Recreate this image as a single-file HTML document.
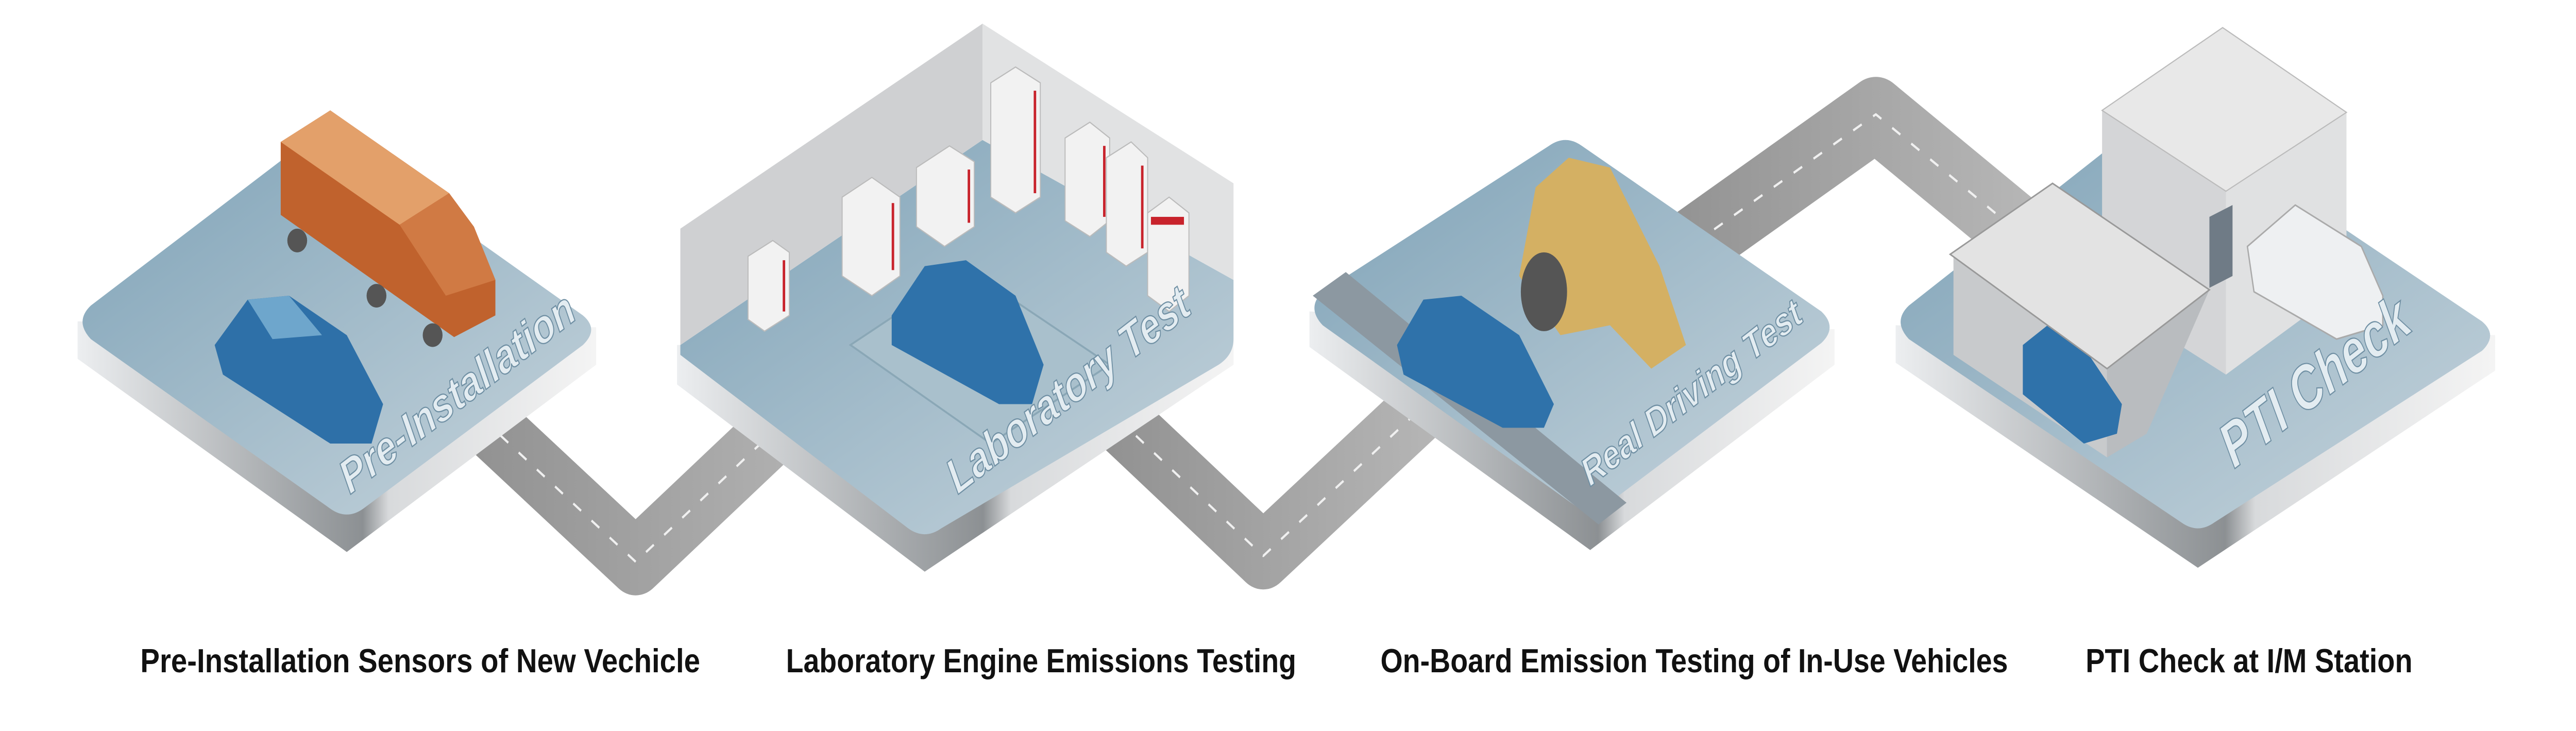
<!DOCTYPE html>
<html><head><meta charset="utf-8"><style>
html,body{margin:0;padding:0;background:#fff;overflow:hidden;width:100%;height:100%}
svg{display:block;width:100vw;height:100vh;position:absolute;left:0;top:0}
</style></head><body>
<svg viewBox="0 0 1560 370.8" preserveAspectRatio="none" xmlns="http://www.w3.org/2000/svg">
<defs>
<linearGradient id="top" x1="0" y1="0" x2="1" y2="1"><stop offset="0" stop-color="#7ea2b7"/><stop offset="1" stop-color="#c6d4dc"/></linearGradient>
<linearGradient id="side" x1="0" y1="0" x2="1" y2="0"><stop offset="0" stop-color="#eceef0"/><stop offset="0.55" stop-color="#8c9093"/><stop offset="0.6" stop-color="#d8dadc"/><stop offset="1" stop-color="#f4f4f4"/></linearGradient>
<linearGradient id="road" x1="0" y1="0" x2="1" y2="0"><stop offset="0" stop-color="#8f8f8f"/><stop offset="1" stop-color="#b8b8b8"/></linearGradient>
</defs>
<g fill="none" stroke-linejoin="round" stroke-linecap="butt">
<path d="M270 195 L385 285 L530 170" stroke="url(#road)" stroke-width="34"/>
<path d="M270 195 L385 285 L530 170" stroke="#f0f0f0" stroke-width="1.2" stroke-dasharray="6 8"/>
<path d="M655 195 L765 282 L885 188" stroke="url(#road)" stroke-width="34"/>
<path d="M655 195 L765 282 L885 188" stroke="#f0f0f0" stroke-width="1.2" stroke-dasharray="6 8"/>
<path d="M990 145 L1136 58 L1240 130" stroke="url(#road)" stroke-width="38"/>
<path d="M990 145 L1136 58 L1240 130" stroke="#f0f0f0" stroke-width="1.2" stroke-dasharray="6 8"/>
</g>
<!-- platform 1 -->
<path d="M47 163 L47 182 L210 280 L361 185 L361 166 Z" fill="url(#side)"/>
<path d="M55 155 Q45 163 55 172 L200 258 Q210 264 220 258 L353 175 Q363 167 353 160 L205 72 Q195 66 185 72 Z" fill="url(#top)"/>
<path d="M170 72 L200 56 L272 98 L287 115 L300 142 L300 160 L275 171 L170 109 Z" fill="#c0622d"/>
<path d="M170 72 L200 56 L272 98 L242 114 Z" fill="#e3a06a"/>
<path d="M242 114 L272 98 L287 115 L300 142 L270 150 Z" fill="#d07a44"/>
<circle cx="180" cy="122" r="6" fill="#555"/><circle cx="228" cy="150" r="6" fill="#555"/><circle cx="262" cy="170" r="6" fill="#555"/>
<path d="M130 175 L150 152 L175 150 L210 170 L232 205 L225 225 L200 225 L135 190 Z" fill="#2e70a8"/>
<path d="M150 152 L175 150 L195 170 L165 172 Z" fill="#6ea6cc"/>
<!-- platform 2 -->
<path d="M410 175 L410 195 L560 290 L747 185 L747 165 Z" fill="url(#side)"/>
<path d="M412 175 L595 71 L747 142 L747 172 Q747 180 738 185 L570 268 Q560 274 550 268 L412 180 Z" fill="url(#top)"/>
<path d="M412 116 L595 12 L595 71 L412 175 Z" fill="#cfd0d2"/>
<path d="M595 12 L747 93 L747 142 L595 71 Z" fill="#e1e2e3"/>
<path d="M515 175 L585 136 L672 185 L600 225 Z" fill="#a9c0cc" stroke="#8aa7b6"/>
<path d="M540 160 L560 135 L585 132 L615 150 L632 185 L625 205 L605 205 L540 175 Z" fill="#2f72aa"/>
<g fill="#f2f2f2" stroke="#bbb" stroke-width="0.6">
<path d="M453 130 L468 122 L478 128 L478 160 L463 168 L453 162 Z"/>
<path d="M510 100 L528 90 L545 100 L545 140 L528 150 L510 140 Z"/>
<path d="M555 85 L575 74 L590 82 L590 115 L572 125 L555 115 Z"/>
<path d="M600 42 L615 34 L630 42 L630 100 L615 108 L600 100 Z"/>
<path d="M645 70 L660 62 L672 70 L672 112 L660 120 L645 112 Z"/>
<path d="M670 80 L685 72 L695 80 L695 128 L682 135 L670 128 Z"/>
<path d="M695 108 L708 100 L720 108 L720 150 L708 158 L695 150 Z"/>
</g>
<g fill="#c8232c">
<rect x="474" y="132" width="1.5" height="26"/><rect x="540" y="103" width="1.5" height="34"/>
<rect x="586" y="86" width="1.5" height="27"/><rect x="626" y="46" width="1.5" height="52"/>
<rect x="668" y="74" width="1.5" height="36"/><rect x="691" y="84" width="1.5" height="42"/>
<rect x="697" y="110" width="20" height="4"/>
</g>
<!-- platform 3 -->
<path d="M793 158 L793 176 L963 279 L1111 185 L1111 167 Z" fill="url(#side)"/>
<path d="M801 148 Q791 156 801 165 L953 256 Q963 262 973 256 L1103 174 Q1113 166 1103 158 L958 74 Q948 68 938 74 Z" fill="url(#top)"/>
<path d="M795 150 L815 138 L985 255 L968 266 Z" fill="#8c98a1"/>
<path d="M930 95 L950 80 L975 85 L1005 135 L1021 175 L1000 187 L975 165 L945 170 L920 140 Z" fill="#d4b063"/>
<ellipse cx="935" cy="148" rx="14" ry="20" fill="#555"/>
<path d="M846 175 L862 152 L885 150 L920 170 L941 205 L935 217 L910 217 L850 190 Z" fill="#2f72aa"/>
<!-- platform 4 -->
<path d="M1148 165 L1148 184 L1331 288 L1511 188 L1511 170 Z" fill="url(#side)"/>
<path d="M1156 155 Q1146 163 1156 172 L1321 265 Q1331 271 1341 265 L1503 178 Q1513 170 1503 163 L1400 105 L1300 60 Z" fill="url(#top)"/>
<path d="M1273 56 L1346 14 L1421 57 L1421 145 L1348 190 L1273 150 Z" fill="#d4d5d7"/>
<path d="M1348 97 L1421 57 L1421 145 L1348 190 Z" fill="#e0e1e2"/>
<path d="M1273 56 L1346 14 L1421 57 L1348 97 Z" fill="#e8e8e8" stroke="#bbb" stroke-width="0.6"/>
<path d="M1183 129 L1183 180 L1276 232 L1276 187 Z" fill="#c8cacc"/>
<path d="M1276 187 L1276 232 L1300 220 L1338 147 Z" fill="#b9bcbf"/>
<path d="M1225 175 L1240 165 L1265 180 L1285 205 L1282 220 L1262 225 L1225 200 Z" fill="#2f72aa"/>
<path d="M1181 129 L1243 93 L1338 147 L1276 187 Z" fill="#e3e3e3" stroke="#999" stroke-width="0.8"/>
<path d="M1361 125 L1390 104 L1430 125 L1443 150 L1443 165 L1415 172 L1365 148 Z" fill="#eef0f2" stroke="#aaa" stroke-width="0.8"/>
<path d="M1338 110 L1352 104 L1352 140 L1338 146 Z" fill="#6f7b86"/>
<g font-family="Liberation Sans, sans-serif" font-style="italic" font-weight="bold" fill="#e3ecf1" stroke="#6f8fa3" stroke-width="0.6">
<text x="212" y="251" font-size="24" textLength="165" lengthAdjust="spacingAndGlyphs" transform="rotate(-33 212 251)">Pre-Installation</text>
<text x="580" y="251" font-size="25" textLength="170" lengthAdjust="spacingAndGlyphs" transform="rotate(-33 580 251)">Laboratory Test</text>
<text x="963" y="247" font-size="20" textLength="155" lengthAdjust="spacingAndGlyphs" transform="rotate(-33 963 247)">Real Driving Test</text>
<text x="1353" y="238" font-size="32" textLength="130" lengthAdjust="spacingAndGlyphs" transform="rotate(-33 1353 238)">PTI Check</text>
</g>
<g font-family="Liberation Sans, sans-serif" font-weight="bold" font-size="17" fill="#111">
<text x="85" y="341" textLength="339" lengthAdjust="spacingAndGlyphs">Pre-Installation Sensors of New Vechicle</text>
<text x="476" y="341" textLength="309" lengthAdjust="spacingAndGlyphs">Laboratory Engine Emissions Testing</text>
<text x="836" y="341" textLength="380" lengthAdjust="spacingAndGlyphs">On-Board Emission Testing of In-Use Vehicles</text>
<text x="1263" y="341" textLength="198" lengthAdjust="spacingAndGlyphs">PTI Check at I/M Station</text>
</g>
</svg>
</body></html>
